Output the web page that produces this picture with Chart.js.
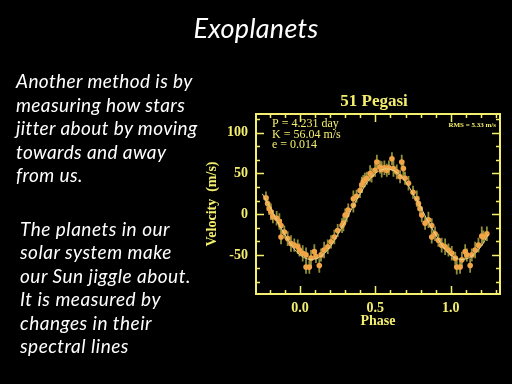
<!DOCTYPE html>
<html>
<head>
<meta charset="utf-8">
<script src="https://cdn.jsdelivr.net/npm/chart.js@4.4.1/dist/chart.umd.min.js"></script>
<style>
  html, body { margin: 0; padding: 0; background: #000; }
  #wrap { position: relative; width: 512px; height: 384px; overflow: hidden; background: #000; }
  #c { position: absolute; left: 0; top: 0; }
  .txt { position: absolute; color: #fff; font-family: Lato, "Open Sans", sans-serif; font-style: italic; white-space: nowrap; }
  #title { left: 0; width: 512px; top: 10px; text-align: center; font-size: 27px; line-height: 36px; letter-spacing: 0.3px; }
  #p1 { left: 16px; top: 69px; font-size: 19px; line-height: 23.5px; letter-spacing: 0.4px; }
  #p2 { left: 20px; top: 217px; font-size: 19px; line-height: 23.4px; letter-spacing: 0.5px; }
</style>
</head>
<body>
<div id="wrap">
  <canvas id="c" width="512" height="384"></canvas>
  <div class="txt" id="title">Exoplanets</div>
  <div class="txt" id="p1">Another method is by<br>measuring how stars<br>jitter about by moving<br>towards and away<br>from us.</div>
  <div class="txt" id="p2">The planets in our<br>solar system make<br>our Sun jiggle about.<br>It is measured by<br>changes in their<br>spectral lines</div>
</div>
<script>
// 51 Pegasi radial velocity, phase folded
const phase = [-0.226, -0.215, -0.204, -0.193, -0.18, -0.155, -0.137, -0.126, -0.126, -0.104,
  -0.082, -0.06, -0.038, -0.015, -0.004, 0.018, 0.04, 0.04, 0.062, 0.073,
  0.095, 0.106, 0.128, 0.14, 0.16, 0.184, 0.206, 0.228, 0.25, 0.279,
  0.288, 0.30, 0.31, 0.32, 0.354, 0.354, 0.375, 0.398, 0.41, 0.42,
  0.43, 0.443, 0.465, 0.475, 0.498, 0.51, 0.53, 0.542, 0.56, 0.576,
  0.59, 0.61, 0.62, 0.642, 0.664, 0.675, 0.686, 0.697, 0.72, 0.75,
  0.775, 0.786, 0.797, 0.808, 0.83, 0.852, 0.874, 0.874, 0.896, 0.918,
  0.94, 0.963, 0.985, 1.007, 1.03, 1.04, 1.062, 1.074, 1.096, 1.107,
  1.129, 1.14, 1.162, 1.184, 1.206, 1.217, 1.24];
const vel = [20, 13, 7, 3, -3, -5, -9, -14, -28, -22,
  -30, -36, -38, -40, -44, -48, -50, -65, -65, -54,
  -46, -52, -63, -50, -44, -40, -34, -28, -20, -14,
  -11, -1, -1, 5, 19, 11, 22, 29, 36, 40,
  42, 44, 50, 48, 54, 64, 58, 55, 57, 54,
  57, 68, 56, 52, 46, 64, 56, 44, 38, 27,
  19, 13, 7, -1, -11, -7, -14, -28, -24, -32,
  -38, -40, -44, -48, -54, -65, -65, -56, -46, -50,
  -63, -50, -44, -38, -27, -28, -24];
const errs = [8, 9, 8, 10, 8, 9, 10, 8, 9, 8,
  9, 10, 8, 9, 8, 10, 9, 8, 8, 10,
  9, 8, 9, 8, 10, 9, 8, 9, 8, 9,
  10, 8, 9, 8, 10, 9, 8, 9, 10, 8,
  9, 8, 10, 9, 8, 9, 8, 10, 9, 8,
  9, 8, 10, 9, 8, 9, 10, 8, 9, 8,
  10, 9, 8, 9, 8, 10, 9, 8, 9, 8,
  9, 10, 8, 9, 8, 9, 8, 10, 9, 8,
  9, 8, 10, 9, 12, 8, 9];

// fitted orbit curve
const fitPhase = [-0.25, -0.2, -0.15, -0.1, -0.05, 0.0, 0.05, 0.1, 0.15, 0.2, 0.25, 0.3, 0.35, 0.4, 0.45, 0.5,
  0.55, 0.6, 0.65, 0.7, 0.75, 0.8, 0.85, 0.9, 0.95, 1.0, 1.05, 1.1, 1.15, 1.2, 1.25];
const fitVel = [25, 9, -9, -25, -40, -50, -55, -55, -50, -40, -25, -9, 9, 25, 40, 50,
  55, 55, 50, 40, 25, 9, -9, -25, -40, -50, -55, -55, -50, -40, -25];

const xTicks = [0.0, 0.5, 1.0];
const yTicks = [-50, 0, 50, 100];
const notes = ['P = 4.231 day', 'K = 56.04 m/s', 'e = 0.014'];
const rmsNote = 'RMS = 5.33 m/s';

const YEL = '#f3ee6e';
const serif = '"Liberation Serif", "DejaVu Serif", serif';

const pts = phase.map((p, i) => ({ x: p, y: vel[i] }));
const fit = fitPhase.map((p, i) => ({ x: p, y: fitVel[i] }));
const bars = [];
phase.forEach((p, i) => {
  bars.push({ x: p, y: vel[i] - errs[i] });
  bars.push({ x: p, y: vel[i] + errs[i] });
  bars.push({ x: p, y: null });
});

const framePlugin = {
  id: 'frame',
  afterDraw(chart) {
    const { ctx, chartArea: a, scales } = chart;
    const xs = scales.x, ys = scales.y;
    ctx.save();
    ctx.strokeStyle = YEL;
    ctx.lineWidth = 2;
    ctx.strokeRect(a.left, a.top, a.right - a.left, a.bottom - a.top);
    ctx.lineWidth = 1.5;
    ctx.beginPath();
    for (let v = -0.2; v <= 1.3; v += 0.1) {
      const px = Math.round(xs.getPixelForValue(v)) + 0.5;
      const major = Math.abs(v * 2 - Math.round(v * 2)) < 1e-6;
      const len = major ? 8 : 4;
      ctx.moveTo(px, a.bottom); ctx.lineTo(px, a.bottom - len);
      ctx.moveTo(px, a.top); ctx.lineTo(px, a.top + len);
    }
    for (let k = -5; k <= 7; k++) {
      const v = k * 50 / 3;
      const py = Math.round(ys.getPixelForValue(v)) + 0.5;
      const len = k % 3 === 0 ? 8 : 4;
      ctx.moveTo(a.left, py); ctx.lineTo(a.left + len, py);
      ctx.moveTo(a.right, py); ctx.lineTo(a.right - len, py);
    }
    ctx.stroke();

    ctx.fillStyle = YEL;
    ctx.font = 'bold 17px ' + serif;
    ctx.textAlign = 'center';
    ctx.textBaseline = 'middle';
    ctx.fillText('51 Pegasi', (a.left + a.right) / 2 - 4, 102);

    ctx.font = '12px ' + serif;
    ctx.textAlign = 'left';
    ctx.textBaseline = 'alphabetic';
    notes.forEach((t, i) => ctx.fillText(t, a.left + 16, a.top + 13 + i * 10.7));

    ctx.font = 'bold 7px ' + serif;
    ctx.textAlign = 'right';
    ctx.fillText(rmsNote, a.right - 4, a.top + 13);
    ctx.restore();
  }
};

const ctx = document.getElementById('c').getContext('2d');
new Chart(ctx, {
  type: 'scatter',
  data: {
    datasets: [
      {
        label: 'fit',
        data: fit,
        showLine: true,
        borderColor: '#e0d68a',
        borderWidth: 1,
        pointRadius: 0,
        tension: 0.4
      },
      {
        label: 'data',
        data: pts,
        backgroundColor: '#f0a445',
        borderColor: '#f0a445',
        pointRadius: 2.8,
        borderWidth: 0
      },
      {
        label: 'err',
        data: bars,
        showLine: true,
        spanGaps: false,
        borderColor: '#8f8c3a',
        borderWidth: 1.8,
        pointRadius: 0
      }
    ]
  },
  options: {
    responsive: false,
    animation: false,
    events: [],
    layout: { padding: { top: 114, left: 200, right: 12, bottom: 54 } },
    plugins: { legend: { display: false }, tooltip: { enabled: false }, title: { display: false } },
    scales: {
      x: {
        type: 'linear',
        min: -0.292,
        max: 1.327,
        afterBuildTicks: s => { s.ticks = xTicks.map(v => ({ value: v })); },
        afterFit: s => { s.height = 36; },
        grid: { display: false, drawTicks: false },
        border: { display: false },
        ticks: {
          color: YEL,
          padding: 6,
          font: { family: serif, size: 14, weight: 'bold' },
          callback: v => v.toFixed(1)
        },
        title: {
          display: true,
          text: 'Phase',
          color: YEL,
          padding: 0,
          font: { family: serif, size: 14, weight: 'bold' }
        }
      },
      y: {
        min: -98,
        max: 123,
        afterBuildTicks: s => { s.ticks = yTicks.map(v => ({ value: v })); },
        afterFit: s => { s.width = 56; },
        grid: { display: false, drawTicks: false },
        border: { display: false },
        ticks: {
          color: YEL,
          padding: 8,
          font: { family: serif, size: 14, weight: 'bold' },
          callback: v => String(v)
        },
        title: {
          display: true,
          text: 'Velocity  (m/s)',
          color: YEL,
          padding: { top: 4, bottom: 0 },
          font: { family: serif, size: 14, weight: 'bold' }
        }
      }
    }
  },
  plugins: [framePlugin]
});
</script>
</body>
</html>
